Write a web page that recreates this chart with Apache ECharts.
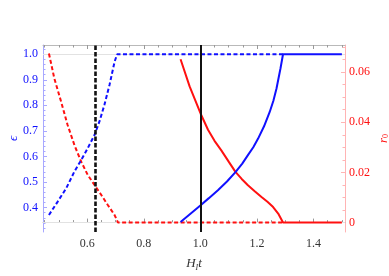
<!DOCTYPE html>
<html>
<head>
<meta charset="utf-8">
<script src="https://cdn.jsdelivr.net/npm/echarts@6/dist/echarts.min.js"></script>
<style>
html,body{margin:0;padding:0;background:#fff;}
#c{width:389px;height:276px;}
</style>
</head>
<body>
<div id="c"></div>
<script>
// ---- data ----
const xTicksMajor = [0.6, 0.8, 1.0, 1.2, 1.4];
const xTicksMinor = [0.45, 0.5, 0.55, 0.65, 0.7, 0.75, 0.85, 0.9, 0.95, 1.05, 1.1, 1.15, 1.25, 1.3, 1.35, 1.45, 1.5];
const epsTicksMajor = [0.4, 0.5, 0.6, 0.7, 0.8, 0.9, 1.0];
const epsTicksMinor = [0.32, 0.34, 0.36, 0.38, 0.42, 0.44, 0.46, 0.48, 0.52, 0.54, 0.56, 0.58, 0.62, 0.64, 0.66, 0.68, 0.72, 0.74, 0.76, 0.78, 0.82, 0.84, 0.86, 0.88, 0.92, 0.94, 0.96, 0.98, 1.02];
const r0TicksMajor = [0, 0.02, 0.04, 0.06];
const r0TicksMinor = [0.005, 0.01, 0.015, 0.025, 0.03, 0.035, 0.045, 0.05, 0.055, 0.065, 0.07];

const epsDashedX = [0.465, 0.496, 0.526, 0.555, 0.579, 0.602, 0.626, 0.6435, 0.661, 0.679, 0.697, 0.706, 1.292];
const epsDashedY = [0.371, 0.4235, 0.4755, 0.541, 0.586, 0.632, 0.684, 0.737, 0.802, 0.880, 0.971, 1.0, 1.0];
const epsSolidX = [0.930, 0.965, 1.001, 1.030, 1.062, 1.094, 1.124, 1.148, 1.168, 1.187, 1.204, 1.225, 1.245, 1.258, 1.269, 1.283, 1.292, 1.5];
const epsSolidY = [0.344, 0.376, 0.409, 0.437, 0.468, 0.502, 0.539, 0.572, 0.605, 0.636, 0.670, 0.718, 0.774, 0.818, 0.866, 0.944, 1.0, 1.0];
const r0DashedX = [0.465, 0.484, 0.508, 0.531, 0.555, 0.579, 0.602, 0.626, 0.650, 0.673, 0.697, 0.709, 1.292];
const r0DashedY = [0.0674, 0.0575, 0.0482, 0.0389, 0.0309, 0.0243, 0.0190, 0.0150, 0.0110, 0.0070, 0.0030, 0, 0];
const r0SolidX = [0.930, 0.962, 1.001, 1.027, 1.050, 1.074, 1.100, 1.124, 1.146, 1.168, 1.192, 1.216, 1.237, 1.257, 1.275, 1.292, 1.5];
const r0SolidY = [0.0651, 0.0543, 0.0434, 0.0370, 0.0326, 0.0288, 0.0243, 0.0202, 0.0174, 0.0149, 0.0125, 0.0102, 0.0083, 0.0062, 0.0036, 0, 0];
const vlineDashed = 0.63;
const vlineSolid = 1.0;
const epsGrid = 1.0;
const r0Grid = 0;

// ---- chart ----
const FONT = '"Liberation Serif", "DejaVu Serif", serif';
const pairs = (xs, ys) => xs.map((x, i) => [x, ys[i]]);
const X_MIN = 0.444, X_MAX = 1.511;
const E_MIN = 0.3045, E_MAX = 1.036;
const R_MIN = -0.00375, R_MAX = 0.0708;
const GRAY = '#b9b9b9', LBLUE = '#a8a8ff', LRED = '#ffb4b4';
const BLUE = '#1010ff', RED = '#ff1010';

function xAxis(pos, major, showLabel, showLine) {
  return {
    type: 'value', position: pos, min: X_MIN, max: X_MAX,
    splitLine: {show: false},
    axisLine: {show: showLine, lineStyle: {color: GRAY, width: 1}},
    axisTick: {show: true, inside: true, length: major ? 4 : 2.5,
      customValues: major ? xTicksMajor : xTicksMinor, lineStyle: {color: '#999'}},
    axisLabel: showLabel ? {show: true, customValues: xTicksMajor, margin: 6,
      color: '#333', fontFamily: FONT, fontSize: 12,
      formatter: v => v.toFixed(1)} : {show: false},
  };
}

const chart = echarts.init(document.getElementById('c'), null, {renderer: 'canvas'});
chart.setOption({
  animation: false,
  backgroundColor: '#fff',
  grid: {left: 43, right: 44, top: 45, bottom: 44, containLabel: false, outerBoundsMode: 'none'},
  xAxis: [
    Object.assign(xAxis('bottom', true, true, true), {
      name: '{i|H}{s|I}{i|t}', nameLocation: 'middle', nameGap: 24,
      nameTextStyle: {rich: {
        i: {fontFamily: FONT, fontStyle: 'italic', fontSize: 13, color: '#333', lineHeight: 16},
        s: {fontFamily: FONT, fontStyle: 'italic', fontSize: 8, color: '#333', lineHeight: 16, verticalAlign: 'bottom', padding: [5, 0, 0, 0]}
      }}
    }),
    xAxis('bottom', false, false, false),
    xAxis('top', true, false, true),
    xAxis('top', false, false, false)
  ],
  yAxis: [
    {
      type: 'value', position: 'left', min: E_MIN, max: E_MAX,
      splitLine: {show: false},
      axisLine: {show: true, lineStyle: {color: LBLUE}},
      axisTick: {inside: true, length: 4, customValues: epsTicksMajor, lineStyle: {color: LBLUE}},
      axisLabel: {customValues: epsTicksMajor, margin: 5, color: BLUE, fontFamily: FONT, fontSize: 12,
        formatter: v => v.toFixed(1)},
      name: 'ϵ', nameLocation: 'middle', nameGap: 23, nameRotate: 90, nameMoveOverlap: false,
      nameTextStyle: {color: BLUE, fontFamily: FONT, fontStyle: 'italic', fontSize: 13, lineHeight: 12}
    },
    {
      type: 'value', position: 'left', min: E_MIN, max: E_MAX,
      splitLine: {show: false}, axisLine: {show: false},
      axisTick: {inside: true, length: 2.5, customValues: epsTicksMinor, lineStyle: {color: LBLUE}},
      axisLabel: {show: false}
    },
    {
      type: 'value', position: 'right', min: R_MIN, max: R_MAX,
      splitLine: {show: false},
      axisLine: {show: true, lineStyle: {color: LRED}},
      axisTick: {inside: true, length: 4, customValues: r0TicksMajor, lineStyle: {color: LRED}},
      axisLabel: {customValues: r0TicksMajor, margin: 4, color: RED, fontFamily: FONT, fontSize: 12,
        formatter: v => v === 0 ? '0' : v.toFixed(2)},
      name: '{i|r}{s|0}', nameLocation: 'middle', nameGap: 33, nameRotate: 90, nameMoveOverlap: false,
      nameTextStyle: {rich: {
        i: {fontFamily: FONT, fontStyle: 'italic', fontSize: 13, color: RED, lineHeight: 12},
        s: {fontFamily: FONT, fontSize: 8, color: RED, lineHeight: 12, verticalAlign: 'bottom', padding: [4, 0, 0, 0]}
      }}
    },
    {
      type: 'value', position: 'right', min: R_MIN, max: R_MAX,
      splitLine: {show: false}, axisLine: {show: false},
      axisTick: {inside: true, length: 2.5, customValues: r0TicksMinor, lineStyle: {color: LRED}},
      axisLabel: {show: false}
    }
  ],
  series: [
    {
      type: 'line', xAxisIndex: 0, yAxisIndex: 2, data: pairs(r0DashedX, r0DashedY),
      showSymbol: false, lineStyle: {color: RED, width: 2, type: [4, 2.5]}, z: 3,
      markLine: {silent: true, symbol: 'none', label: {show: false}, animation: false,
        lineStyle: {color: '#e2e2e2', width: 1, type: 'solid'}, data: [{yAxis: r0Grid}], z: 1}
    },
    {
      type: 'line', xAxisIndex: 0, yAxisIndex: 2, data: pairs(r0SolidX, r0SolidY),
      showSymbol: false, lineStyle: {color: RED, width: 2}, z: 4
    },
    {
      type: 'line', xAxisIndex: 0, yAxisIndex: 0, data: pairs(epsDashedX, epsDashedY),
      showSymbol: false, lineStyle: {color: BLUE, width: 2, type: [4, 2.5]}, z: 5,
      markLine: {silent: true, symbol: 'none', label: {show: false}, animation: false,
        lineStyle: {color: '#e2e2e2', width: 1, type: 'solid'}, data: [{yAxis: epsGrid}], z: 1}
    },
    {
      type: 'line', xAxisIndex: 0, yAxisIndex: 0, data: pairs(epsSolidX, epsSolidY),
      showSymbol: false, lineStyle: {color: BLUE, width: 2}, z: 6,
      markLine: {silent: true, symbol: 'none', label: {show: false}, animation: false, z: 10,
        data: [
          {xAxis: vlineDashed, lineStyle: {color: '#111', width: 2.6, type: [4.5, 2]}},
          {xAxis: vlineSolid, lineStyle: {color: '#111', width: 2, type: 'solid'}}
        ]}
    }
  ]
});
</script>
</body>
</html>
